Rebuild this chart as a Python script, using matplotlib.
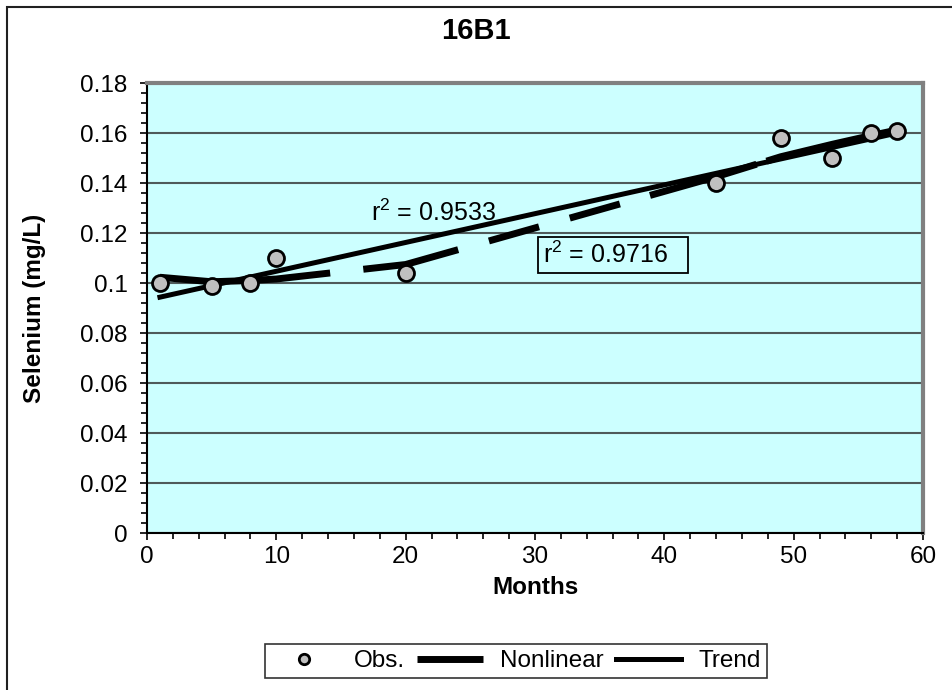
import numpy as np
import matplotlib.pyplot as plt
from matplotlib.patches import Rectangle
from matplotlib.ticker import MultipleLocator

plt.rcParams['font.family'] = ['Liberation Sans', 'DejaVu Sans']
plt.rcParams['mathtext.fontset'] = 'custom'
plt.rcParams['mathtext.rm'] = 'Liberation Sans'
plt.rcParams['mathtext.it'] = 'Liberation Sans:italic'

# data
months = [1, 5, 8, 10, 20, 44, 49, 53, 56, 58]
selenium = [0.100, 0.099, 0.100, 0.110, 0.104, 0.140, 0.158, 0.150, 0.160, 0.161]
nonlinear = [0.1023, 0.1005, 0.1010, 0.1016, 0.1074, 0.1425, 0.1505, 0.1555, 0.1590, 0.1612]
r2_trend = '0.9533'
r2_nonlinear = '0.9716'

x_ticks = [0, 10, 20, 30, 40, 50, 60]
y_ticks = [0, 0.02, 0.04, 0.06, 0.08, 0.1, 0.12, 0.14, 0.16, 0.18]
y_labels = ['0', '0.02', '0.04', '0.06', '0.08', '0.1', '0.12', '0.14', '0.16', '0.18']

fs = 17.5

fig = plt.figure(figsize=(9.52, 6.9), dpi=100)
ax = fig.add_axes([0.1544, 0.2275, 0.8151, 0.6522])
ax.set_facecolor('#CCFFFF')

# linear trend through the observations
slope, icpt = np.polyfit(months, selenium, 1)
xt = np.array([months[0], months[-1]])

obs, = ax.plot(months, selenium, 'o', ms=11.5, mfc='#C0C0C0', mec='black',
               mew=2, zorder=5, label='Obs.')
nl, = ax.plot(months, nonlinear, color='black', lw=5, zorder=3,
              linestyle=(0, (24.6, 4.8, 14, 4.6, 7.5, 4.6, 7.5, 4.5, 16, 1.5, 30, 2)),
              solid_capstyle='butt', dash_capstyle='butt', label='Nonlinear')
tr, = ax.plot(xt, slope * xt + icpt, color='black', lw=3.6, zorder=4, label='Trend')

ax.text(17.3, 0.128, r'r$^{\mathrm{2}}$ = ' + r2_trend, fontsize=18, va='center', ha='left', zorder=6)
ax.text(30.6, 0.1113, r'r$^{\mathrm{2}}$ = ' + r2_nonlinear + '   ', fontsize=18, va='center',
        ha='left', zorder=6,
        bbox=dict(boxstyle='square,pad=0.2', fc='#CCFFFF', ec='black', lw=1.3))

ax.set_xlim(0, 60)
ax.set_ylim(0, 0.18)
ax.set_xticks(x_ticks)
ax.set_yticks(y_ticks)
ax.set_yticklabels(y_labels)
ax.xaxis.set_minor_locator(MultipleLocator(2))
ax.yaxis.set_minor_locator(MultipleLocator(0.004))
ax.tick_params(which='major', direction='out', length=5, width=1.2, labelsize=fs, pad=4)
ax.tick_params(which='minor', direction='out', length=4, width=1.2)
ax.tick_params(axis='y', which='major', pad=9)

ax.grid(axis='y', which='major', color='#4F5A5A', lw=1.5)
ax.set_axisbelow(True)
for s in ['left', 'bottom']:
    ax.spines[s].set_color('black')
    ax.spines[s].set_linewidth(1.5)
for s in ['top', 'right']:
    ax.spines[s].set_color('#808080')
    ax.spines[s].set_linewidth(3)

fig.text(0.5, 1 - 31 / 690, '16B1', fontsize=21, fontweight='bold', ha='center', va='center')
fig.text(35 / 952, 1 - 308 / 690, 'Selenium (mg/L)', fontsize=fs, fontweight='bold',
         rotation=90, ha='center', va='center')
fig.text(535 / 952, 1 - 588 / 690, 'Months', fontsize=fs, fontweight='bold',
         ha='center', va='center')

leg = fig.legend(handles=[obs, nl, tr], loc='center', bbox_to_anchor=(516 / 952, 1 - 661 / 690),
                 ncol=3, fontsize=fs, frameon=True, fancybox=False, edgecolor='black',
                 handlelength=2.7, handletextpad=0.7, columnspacing=0.5, markerscale=0.65,
                 borderpad=0.25, borderaxespad=0)
leg.get_frame().set_linewidth(1.2)

# outer chart border
fig.patches.append(Rectangle((7 / 952, -0.05), 1.1, 1.05 - 7 / 690, transform=fig.transFigure,
                             fill=False, ec='#202020', lw=1.5))

fig.savefig('out.png', dpi=100)
